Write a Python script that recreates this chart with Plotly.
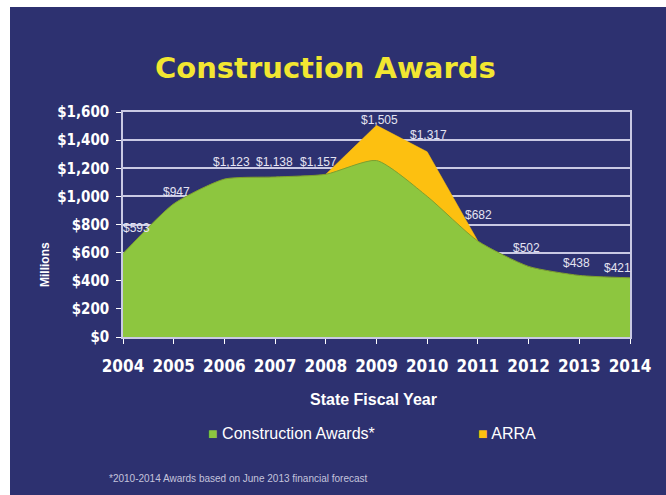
import plotly.graph_objects as go

years = [2004, 2005, 2006, 2007, 2008, 2009, 2010, 2011, 2012, 2013, 2014]
construction = [593, 947, 1123, 1138, 1157, 1255, 1000, 682, 502, 438, 421]
arra = [0, 0, 0, 0, 0, 250, 317, 0, 0, 0, 0]
y_ticks = [0, 200, 400, 600, 800, 1000, 1200, 1400, 1600]
y_ticktext = [f"${v:,}" for v in y_ticks]

# label offsets (style only, pixels)
label_xshift = [13, 3, 7, -1, -7, 3, 1, 1, -2, -3, -13]
label_yshift = [26, 12, 17, 15, 12, 5, 17, 26, 18, 12, 10]

totals = [c + a for c, a in zip(construction, arra)]
n = len(years)
arra_idx = [i for i in range(n) if arra[i] > 0 or (i > 0 and arra[i - 1] > 0) or (i < n - 1 and arra[i + 1] > 0)]

BG = "#2d3170"
GREEN = "#8dc63f"
YELLOW = "#fdc010"
GRID = "#c9c9e4"
TICKFONT = "DejaVu Sans Condensed, DejaVu Sans, sans-serif"

fig = go.Figure()
fig.add_trace(go.Scatter(
    x=[years[i] for i in arra_idx], y=[totals[i] for i in arra_idx],
    mode="lines", fill="tozeroy", fillcolor=YELLOW,
    line=dict(color=YELLOW, width=0.5), name="ARRA", hoverinfo="skip"))
fig.add_trace(go.Scatter(
    x=years, y=construction, mode="lines", fill="tozeroy", fillcolor=GREEN,
    line=dict(color="#7f9f2e", width=1, shape="spline", smoothing=0.6),
    name="Construction Awards*", hoverinfo="skip"))

W0, W1 = 123, 630
T0, B0 = 112, 337
def px(x):
    return (x - W0) / (W1 - W0)
def py(y):
    return (B0 - y) / (B0 - T0)

annotations = []
for i in range(n):
    annotations.append(dict(
        x=years[i], y=totals[i], xref="x", yref="y",
        text=f"${totals[i]:,}", showarrow=False,
        xshift=label_xshift[i], yshift=label_yshift[i],
        font=dict(family="Liberation Sans, Arial", size=12, color="#e4e4f2")))

annotations += [
    dict(x=px(325), y=py(68), xref="paper", yref="paper", text="<b>Construction Awards</b>",
         showarrow=False, xanchor="center", yanchor="middle",
         font=dict(family="DejaVu Sans, Verdana", size=29, color="#f2e631")),
    dict(x=px(373), y=py(399), xref="paper", yref="paper", text="<b>State Fiscal Year</b>",
         showarrow=False, xanchor="center", yanchor="middle",
         font=dict(family="Liberation Sans, Arial", size=16, color="#ffffff")),
    dict(x=px(45), y=py(265), xref="paper", yref="paper", text="<b>Millions</b>",
         showarrow=False, xanchor="center", yanchor="middle", textangle=-90,
         font=dict(family="Liberation Sans, Arial", size=12, color="#ffffff")),
    dict(x=px(206), y=py(433), xref="paper", yref="paper",
         text=f'<span style="color:{GREEN}">■</span> Construction Awards*',
         showarrow=False, xanchor="left", yanchor="middle",
         font=dict(family="Liberation Sans, Arial", size=16, color="#ffffff")),
    dict(x=px(476), y=py(433), xref="paper", yref="paper",
         text=f'<span style="color:{YELLOW}">■</span> ARRA',
         showarrow=False, xanchor="left", yanchor="middle",
         font=dict(family="Liberation Sans, Arial", size=16, color="#ffffff")),
    dict(x=px(107), y=py(478), xref="paper", yref="paper",
         text="*2010-2014 Awards based on June 2013 financial forecast",
         showarrow=False, xanchor="left", yanchor="middle",
         font=dict(family="Liberation Sans, Arial", size=10, color="#c4c4dc")),
]

shapes = [
    dict(type="rect", xref="paper", yref="paper", x0=px(0), x1=px(10), y0=py(495), y1=py(0),
         fillcolor="#ffffff", line=dict(width=0), layer="above"),
    dict(type="rect", xref="paper", yref="paper", x0=px(0), x1=px(666), y0=py(7), y1=py(0),
         fillcolor="#ffffff", line=dict(width=0), layer="above"),
]

fig.update_layout(
    width=666, height=495,
    margin=dict(l=W0, r=666 - W1, t=T0, b=495 - B0),
    paper_bgcolor=BG, plot_bgcolor=BG,
    showlegend=False,
    annotations=annotations, shapes=shapes,
    xaxis=dict(range=[years[0], years[-1]], tickvals=years, ticks="outside", ticklen=5,
               tickcolor="#ffffff", showgrid=False, showline=True, linecolor=GRID, linewidth=1.5,
               mirror=True, zeroline=False, ticklabelstandoff=8,
               tickfont=dict(family=TICKFONT, size=17, color="#ffffff", weight="bold")),
    yaxis=dict(range=[0, 1600], tickvals=y_ticks, ticktext=y_ticktext,
               ticks="outside", ticklen=5, tickcolor="#ffffff",
               showgrid=True, gridcolor=GRID, gridwidth=1.5,
               showline=True, linecolor=GRID, linewidth=1.5, mirror=True, zeroline=False,
               ticklabelstandoff=4,
               tickfont=dict(family=TICKFONT, size=15, color="#ffffff", weight="bold")),
)

fig.write_html("out.html")
